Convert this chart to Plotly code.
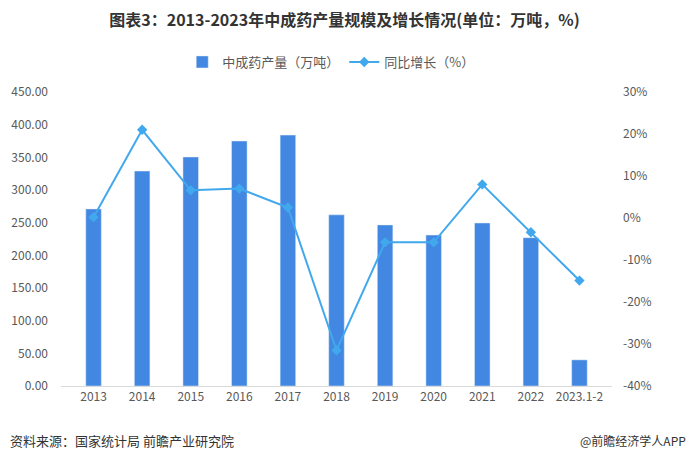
import plotly.graph_objects as go

categories = ["2013", "2014", "2015", "2016", "2017", "2018", "2019", "2020", "2021", "2022", "2023.1-2"]
output_wt = [271, 329, 350.5, 375, 384, 262, 246.5, 231, 249.5, 227, 40]
growth_pct = [0.2, 21.0, 6.6, 7.0, 2.5, -31.5, -5.8, -5.8, 8.0, -3.4, -14.9]
left_ticks = [0, 50, 100, 150, 200, 250, 300, 350, 400, 450]
right_ticks = [-40, -30, -20, -10, 0, 10, 20, 30]
right_labels = [f"{v}%" for v in right_ticks]

FONT = "Noto Sans CJK SC"
BAR_C = "#4287E1"
LINE_C = "#42A8EE"
TXT = "#595959"

fig = go.Figure()
fig.add_trace(go.Bar(
    x=categories, y=output_wt, name="中成药产量（万吨）",
    marker_color=BAR_C, width=0.32, yaxis="y"))
fig.add_trace(go.Scatter(
    x=categories, y=growth_pct, name="同比增长（%）", yaxis="y2",
    mode="lines+markers", line=dict(color=LINE_C, width=2),
    marker=dict(symbol="diamond", size=8, color=LINE_C)))

fig.update_layout(
    width=689, height=463,
    margin=dict(l=61, r=77, t=92, b=77, autoexpand=False),
    paper_bgcolor="white", plot_bgcolor="white",
    font=dict(family=FONT, size=12, color=TXT),
    title=dict(text="<b>图表3：2013-2023年中成药产量规模及增长情况(单位：万吨，%)</b>",
               x=0.5, xanchor="center", y=1 - 20/463, yanchor="middle",
               font=dict(size=16, color="#333333", family=FONT)),
    legend=dict(orientation="h", x=0.48, xanchor="center", xref="container",
                y=1 - 62/463, yanchor="middle", yref="container",
                font=dict(size=13, color=TXT), bgcolor="rgba(0,0,0,0)"),
    xaxis=dict(type="category", showgrid=False, showline=True, linecolor="#D9D9D9",
               linewidth=1, ticks="", automargin=False, tickfont=dict(size=12, color=TXT)),
    yaxis=dict(range=[0, 450], tickvals=left_ticks, tickformat=".2f", showgrid=False,
               zeroline=False, showline=False, ticks="", automargin=False,
               tickfont=dict(size=12, color=TXT), ticklabelstandoff=12),
    yaxis2=dict(range=[-40, 30], tickvals=right_ticks, ticktext=right_labels, overlaying="y",
                side="right", showgrid=False, zeroline=False, showline=False, ticks="",
                automargin=False, tickfont=dict(size=12, color=TXT), ticklabelstandoff=10),
    showlegend=True,
)

fig.add_annotation(text="资料来源：国家统计局 前瞻产业研究院", xref="paper", yref="paper",
                   x=-53/551, y=-54/294, xanchor="left", yanchor="middle", showarrow=False,
                   font=dict(size=13, color="#333333"))
fig.add_annotation(text="@前瞻经济学人APP", xref="paper", yref="paper",
                   x=(688-61)/551, y=-54/294, xanchor="right", yanchor="middle", showarrow=False,
                   font=dict(size=12, color="#333333"))

fig.write_html("out.html", config={"displayModeBar": False},
               post_script="document.body.style.margin='0';")
